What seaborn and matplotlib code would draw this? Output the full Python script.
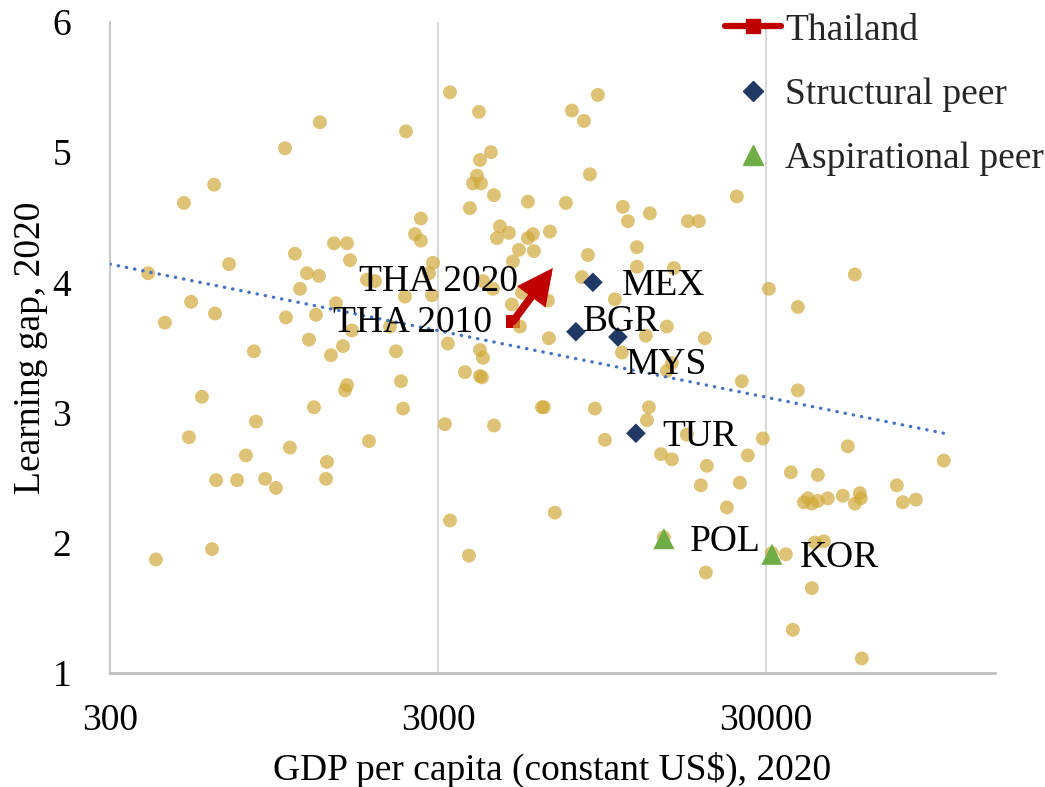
import numpy as np
import pandas as pd
import matplotlib
matplotlib.use("Agg")
import matplotlib.pyplot as plt
from matplotlib.lines import Line2D
import seaborn as sns

# ---- data -----------------------------------------------------------------
# All countries: GDP per capita (constant US$) and learning gap, 2020
gdp_pc = [392, 414, 441, 504, 522, 530, 572, 614, 623, 627,
          632, 692, 732, 779, 824, 836, 891, 962, 1025, 1032,
          1061, 1099, 1139, 1196, 1213, 1256, 1274, 1301, 1310, 1367,
          1376, 1415, 1445, 1466, 1540, 1562, 1584, 1584, 1618, 1640,
          1822, 1848, 1928, 2142, 2234, 2314, 2347, 2380, 2397, 2553,
          2662, 2662, 2817, 2876, 2897,
          3150, 3218, 3265, 3265, 3626, 3729, 3755, 3836, 3946, 4002,
          4030, 4030, 4030, 4086, 4058, 4115, 4115, 4353, 4415, 4446,
          4446, 4539, 4636, 4939, 5043, 5298, 5335, 5411, 5080, 5643,
          5643, 5844, 5886, 6227, 6314, 6494, 6539, 6585, 6818, 7367,
          7685, 8245, 8362, 8599, 8722, 9033, 9222, 9688, 10393, 10917,
          10993, 11387, 12135, 12135, 12922, 13014, 13198, 13290, 14358, 14662,
          14973, 14973, 15508, 15508, 15729, 17230, 17353, 18741,
          19008, 19548, 19687, 19825, 22815, 24472, 24991, 25345, 26436, 29375,
          30639, 31294, 34529, 35758, 36264, 37564, 37564, 39184, 40295, 41435,
          41435, 42319, 43216, 43216, 45079, 46363, 51508, 53349, 56046, 56046,
          58047, 58456, 58867, 75249, 78485, 86004, 104666]
learning_gap = [4.07, 1.87, 3.69, 4.61, 2.81, 3.85, 3.12, 1.95, 4.75, 3.76,
                2.48, 4.14, 2.48, 2.67, 3.47, 2.93, 2.49, 2.42, 5.03, 3.73,
                2.73, 4.22, 3.95, 4.07, 3.56, 3.04, 3.75, 4.05, 5.23, 2.49,
                2.62, 3.44, 4.30, 3.84, 3.51, 3.17, 3.21, 4.30, 4.17, 3.63,
                4.02, 2.78, 4.01, 3.66, 3.47, 3.24, 3.03, 3.89, 5.16, 4.37,
                4.49, 4.32, 4.07, 3.90, 4.15,
                2.91, 3.53, 5.46, 2.17, 3.31, 1.90, 4.57, 4.76, 4.82, 5.31,
                4.94, 3.48, 3.28, 3.27, 4.76, 4.01, 3.42, 5.00, 3.95, 4.67,
                2.90, 4.34, 4.43, 4.38, 3.83, 4.25, 3.66, 3.92, 4.16, 4.62,
                4.34, 4.37, 4.24, 3.04, 3.04, 3.86, 3.57, 4.39, 2.23, 4.61,
                5.32, 4.04, 5.24, 4.21, 4.83, 3.03, 5.44, 2.79, 3.87, 3.46,
                4.58, 4.47, 4.27, 4.12, 3.59, 2.94, 3.04, 4.53, 2.68, 2.04,
                3.66, 3.32, 3.38, 2.64, 4.11, 2.83, 4.47, 4.47,
                2.44, 3.57, 1.77, 2.59, 2.27, 4.66, 2.46, 3.24, 2.67, 2.80,
                3.95, 1.92, 1.91, 2.54, 1.33, 3.81, 3.17, 2.31, 2.34, 2.30,
                1.65, 2.00, 2.52, 2.32, 2.01, 2.34, 2.36, 2.74, 4.06, 2.30,
                2.38, 2.34, 1.11, 2.44, 2.31, 2.33, 2.63]

# Logarithmic trend line (end points of the fitted line)
trend_gdp = [300, 104700]
trend_gap = [4.14, 2.84]

# Thailand, 2010 -> 2020
tha_labels = ["THA 2010", "THA 2020"]
tha_gdp = [5080, 6724]
tha_gap = [3.70, 4.11]

# Structural peers
struct_codes = ["MEX", "BGR", "MYS", "TUR"]
struct_gdp = [8907, 7904, 10615, 12048]
struct_gap = [4.00, 3.62, 3.58, 2.84]

# Aspirational peers
asp_codes = ["POL", "KOR"]
asp_gdp = [14662, 31294]
asp_gap = [2.03, 1.91]

x_ticks = [300, 3000, 30000]
x_tick_labels = ["300", "3000", "30000"]
y_ticks = [1, 2, 3, 4, 5, 6]

# ---- style ----------------------------------------------------------------
sns.set_style("white")
plt.rcParams["font.family"] = ["Liberation Serif", "DejaVu Serif"]
FS = 27

GOLD = "#D1A93A"
NAVY = "#1F3864"
GREEN = "#70AD47"
RED = "#C00000"
BLUE = "#4472C4"
INK = "#000000"

fig = plt.figure(figsize=(10.45, 7.87), dpi=100)
ax = fig.add_axes([0.1053, 0.1452, 0.8469, 0.8268])

countries = pd.DataFrame({"gdp": gdp_pc, "gap": learning_gap})
struct = pd.DataFrame({"gdp": struct_gdp, "gap": struct_gap, "code": struct_codes})
asp = pd.DataFrame({"gdp": asp_gdp, "gap": asp_gap, "code": asp_codes})
tha = pd.DataFrame({"gdp": tha_gdp, "gap": tha_gap, "label": tha_labels})

ax.set_xscale("log")
ax.set_xlim(300, 150000)
ax.set_ylim(1, 6)

# vertical grid lines only
for gx in x_ticks[1:]:
    ax.axvline(gx, color="#D9D9D9", lw=1.5, zorder=0)

# Thailand 2010 marker (sits below the country cloud)
ax.scatter(tha["gdp"].iloc[:1], tha["gap"].iloc[:1], marker="s", s=95,
           color=RED, edgecolor="none", zorder=1)

# all countries
sns.scatterplot(data=countries, x="gdp", y="gap", ax=ax, color=GOLD, alpha=0.7,
                s=100, edgecolor="none", zorder=2, legend=False)

# trend line
ax.plot(trend_gdp, trend_gap, color=BLUE, lw=2.4, linestyle=(0, (0.1, 2.4)),
        dash_capstyle="round", zorder=3)

# Thailand arrow 2010 -> 2020
ax.annotate("", xy=(tha_gdp[1], tha_gap[1]), xytext=(tha_gdp[0], tha_gap[0]),
            arrowprops=dict(arrowstyle="-|>,head_length=0.85,head_width=0.42",
                            color=RED, lw=5.5, mutation_scale=20,
                            shrinkA=0, shrinkB=0, joinstyle="miter"),
            zorder=4)

# peers
sns.scatterplot(data=struct, x="gdp", y="gap", ax=ax, marker="D", s=100,
                color=NAVY, edgecolor="none", zorder=5, legend=False)
sns.scatterplot(data=asp, x="gdp", y="gap", ax=ax, marker="^", s=230,
                color=GREEN, edgecolor="none", zorder=5, legend=False)

# point labels (offsets in pixels)
label_offsets = {
    "THA 2010": (-21, -1, "right"),
    "THA 2020": (-35, -14, "right"),
    "MEX": (29, -3, "left"),
    "BGR": (7, 10, "left"),
    "MYS": (8, -28, "left"),
    "TUR": (26, -3, "left"),
    "POL": (26, -3, "left"),
    "KOR": (28, -3, "left"),
}
for name, gx, gy in list(zip(tha_labels, tha_gdp, tha_gap)) + \
        list(zip(struct_codes, struct_gdp, struct_gap)) + \
        list(zip(asp_codes, asp_gdp, asp_gap)):
    dx, dy, ha = label_offsets[name]
    ax.annotate(name, xy=(gx, gy), xytext=(dx, dy), textcoords="offset pixels",
                ha=ha, va="center", fontsize=FS, color=INK, zorder=6)

# axes
ax.set_xticks(x_ticks)
ax.set_xticklabels(x_tick_labels)
ax.minorticks_off()
ax.set_yticks(y_ticks)
ax.tick_params(axis="both", length=0, labelsize=FS, colors=INK)
ax.tick_params(axis="x", pad=22)
ax.tick_params(axis="y", pad=28)
for side in ["top", "right"]:
    ax.spines[side].set_visible(False)
ax.spines["left"].set_color("#C8C8C8")
ax.spines["left"].set_linewidth(1.5)
ax.spines["bottom"].set_color("#BFBFBF")
ax.spines["bottom"].set_linewidth(2)
ax.set_xlabel("GDP per capita (constant US$), 2020", fontsize=FS, color=INK,
              labelpad=10)
ax.set_ylabel("Learning gap, 2020", fontsize=FS, color=INK, labelpad=3)

# legend
handles = [
    Line2D([0], [0], color=RED, lw=4.5, marker="s", ms=10, solid_capstyle="round"),
    Line2D([0], [0], color=NAVY, lw=0, marker="D", ms=10),
    Line2D([0], [0], color=GREEN, lw=0, marker="^", ms=15),
]
fig.legend(handles, ["Thailand", "Structural peer", "Aspirational peer"],
           loc="upper left", bbox_to_anchor=(725 / 1045, 1 - 13 / 787),
           frameon=False, fontsize=FS, handlelength=1.5, handletextpad=0.1,
           labelspacing=0.8, borderpad=0, borderaxespad=0)

fig.savefig("out.png", dpi=100)
